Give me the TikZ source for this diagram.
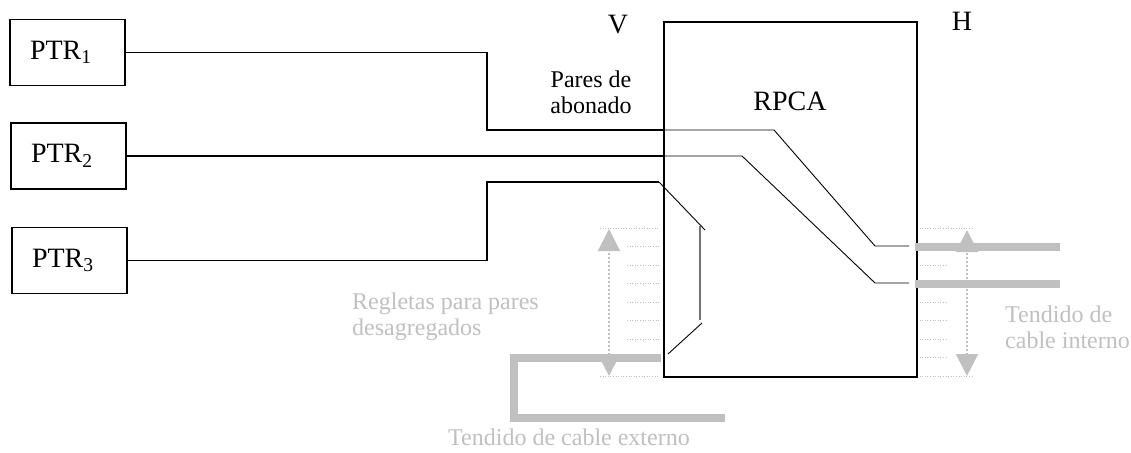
\documentclass[tikz,border=0pt]{standalone}
\usepackage{fontspec}
\setmainfont{Liberation Serif}
\usetikzlibrary{arrows.meta}
\definecolor{lg}{RGB}{192,192,192}
\begin{document}
\begin{tikzpicture}[x=1pt,y=-1pt,
  wire/.style={line width=1.6pt},
  inwire/.style={line width=0.9pt},
  bigtxt/.style={font=\fontsize{28}{32}\selectfont},
  smalltxt/.style={font=\fontsize{24}{26}\selectfont, inner sep=0pt},
  graytxt/.style={smalltxt, text=lg},
  ptrbox/.style={draw, line width=1.6pt, minimum height=66pt, inner xsep=20pt,
    text width=75pt, align=left, bigtxt},
  bigbox/.style={draw, line width=1.8pt, minimum width=253pt, minimum height=355pt, inner sep=0pt},
  bar/.style={draw=lg, line width=8pt},
  dots/.style={draw=lg, line width=1pt, dash pattern=on 1pt off 1.6pt},
  dotarrow/.style={draw=lg, line width=2pt, dash pattern=on 2pt off 2pt,
    {Triangle[width=22pt,length=22pt]}-{Triangle[width=22pt,length=22pt]}}
]
\useasboundingbox (0,0) rectangle (1131,452);

% regletas (dotted lines)
\foreach \yy in {228,376} {
  \draw[dots] (600,\yy) -- (659,\yy);
  \draw[dots] (917,\yy) -- (973,\yy);
}
\foreach \yy in {246.5,265,283.5,302,320.5,339,357.5} {
  \draw[dots] (627,\yy) -- (659,\yy);
  \draw[dots] (917,\yy) -- (946,\yy);
}

% dotted double arrows
\coordinate (la1) at (609,376);
\coordinate (la2) at (609,229);
\coordinate (ra1) at (967,376);
\coordinate (ra2) at (967,230);
\draw[dotarrow] (la1) -- (la2);
\draw[dotarrow] (ra1) -- (ra2);

% boxes
\node[ptrbox] (p1) at (67.5,52.5) {PTR\textsubscript{1}};
\node[ptrbox] (p2) at (68.5,156) {PTR\textsubscript{2}};
\node[ptrbox] (p3) at (69.5,260.5) {PTR\textsubscript{3}};
\node[bigbox] (rpca) at (790.5,199.5) {};

% labels
\node[bigtxt, inner sep=0pt] (rpcat) at (790,101) {RPCA};
\node[bigtxt, inner sep=0pt] (vlab) at (618,25) {V};
\node[bigtxt, inner sep=0pt] (hlab) at (962,21) {H};
\node[smalltxt, align=center] (pares) at (591,92) {Pares de\\abonado};
\node[graytxt, align=left, anchor=west] (regl) at (352,317) {Regletas para pares\\desagregados};
\node[graytxt, align=left, anchor=west] (tint) at (1005,327) {Tendido de\\cable interno};
\node[graytxt] (text) at (569,437) {Tendido de cable externo};

% coordinates of the wiring
\coordinate (b1) at (487,130);
\coordinate (e1) at (rpca.west |- b1);
\coordinate (c1) at (774,130);
\coordinate (d1) at (875,246);
\coordinate (f1) at (909,246);

\coordinate (b2) at (rpca.west |- p2.east);
\coordinate (c2) at (742,156);
\coordinate (d2) at (875,283);
\coordinate (f2) at (909,283);

\coordinate (b3) at (487,182);
\coordinate (e3) at (659,182);
\coordinate (c3) at (705,230);
\coordinate (g1) at (700,226);
\coordinate (g2) at (700,320);
\coordinate (h1) at (702,323);
\coordinate (h2) at (668,354);

% wires outside
\draw[wire] (p1.east) -| (b1) -- (e1);
\draw[wire] (p2.east) -- (b2);
\draw[wire] (p3.east) -| (b3) -- (e3);

% wires inside
\draw[inwire] (e1) -- (c1) -- (d1) -- (f1);
\draw[inwire] (b2) -- (c2) -- (d2) -- (f2);
\draw[inwire] (e3) -- (c3);
\draw[line width=1.4pt, draw=black!55] (g1) -- (g2);
\draw[inwire] (h1) -- (h2);

% gray cables
\draw[bar] (915,247) -- (1060,247);
\draw[bar] (915,284) -- (1060,284);
\draw[bar, line join=miter] (661,358) -- (514,358) -- (514,418) -- (725,418);
\end{tikzpicture}
\end{document}
